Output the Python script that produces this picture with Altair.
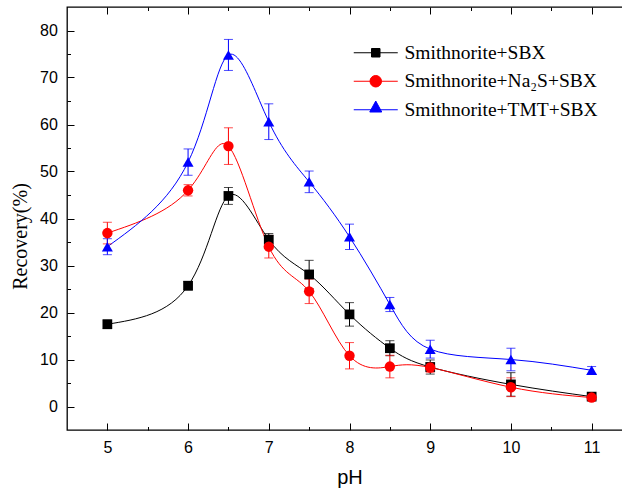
import altair as alt
import pandas as pd

# ---- data ----
ph = [5, 6, 6.5, 7, 7.5, 8, 8.5, 9, 10, 11]
series_names = ["Smithnorite+SBX", "Smithnorite+Na₂S+SBX", "Smithnorite+TMT+SBX"]
sbx = [17.5, 25.7, 44.8, 35.5, 28.1, 19.6, 12.4, 8.4, 4.7, 2.1]
sbx_err = [0.9, 0.9, 1.8, 1.3, 3.0, 2.5, 1.6, 1.5, 2.5, 0.6]
na2s = [36.9, 46.0, 55.4, 34.0, 24.5, 10.8, 8.5, 8.3, 4.1, 1.9]
na2s_err = [2.3, 1.2, 3.9, 2.4, 2.6, 2.8, 2.4, 1.0, 2.0, 0.5]
tmt = [34.0, 52.0, 74.8, 60.6, 47.8, 36.1, 21.7, 12.2, 10.0, 7.7]
tmt_err = [1.7, 2.8, 3.3, 3.8, 2.3, 2.7, 1.5, 1.9, 2.4, 0.8]

colors = ["#000000", "#ff0000", "#0000ff"]
marker_shapes = ["square", "circle", "triangle-up"]
marker_sizes = [95, 121, 165]
legend_shapes = [
    "M-4.4,0H4.4M-0.85,-0.85H0.85V0.85H-0.85Z",
    "M-4.4,0H4.4M-1.15,0A1.15,1.15,0,1,1,1.15,0A1.15,1.15,0,1,1,-1.15,0Z",
    "M-4.4,0H4.4M0,-1.75L1.2,0.45L-1.2,0.45Z",
]
x_major = [5, 6, 7, 8, 9, 10, 11]
x_minor = [5.5, 6.5, 7.5, 8.5, 9.5, 10.5]
y_major = [0, 10, 20, 30, 40, 50, 60, 70, 80]
y_minor = [5, 15, 25, 35, 45, 55, 65, 75]

rows = []
for name, vals, errs in zip(series_names, [sbx, na2s, tmt], [sbx_err, na2s_err, tmt_err]):
    for p, v, e in zip(ph, vals, errs):
        rows.append({"series": name, "ph": p, "value": v, "lo": v - e, "hi": v + e})
df = pd.DataFrame(rows)

xs = alt.Scale(domain=[4.5, 11.5], nice=False, zero=False)
ys = alt.Scale(domain=[-5, 85], nice=False, zero=False)


def cscale():
    return alt.Scale(domain=series_names, range=colors)


SANS = "Liberation Sans"
SERIF = "Liberation Serif"


def tick_axis(orient, values, size, **kw):
    return alt.Axis(orient=orient, values=values, tickSize=size, offset=-size,
                    domain=False, grid=False, tickColor="black", tickWidth=1,
                    **kw)


base = alt.Chart(df)

lines = base.mark_line(interpolate="natural", strokeWidth=1).encode(
    x=alt.X("ph:Q", scale=xs, axis=tick_axis(
        "bottom", x_major, 7, labelPadding=9, labelFont=SANS, labelFontSize=16,
        labelColor="black", format="d", title="pH", titleFont=SANS,
        titleFontSize=20, titleFontWeight="normal", titleColor="black",
        titleY=54, titleBaseline="middle")),
    y=alt.Y("value:Q", scale=ys, axis=tick_axis(
        "left", y_major, 7, labelPadding=9.6, labelFont=SANS, labelFontSize=16,
        labelColor="black", format="d", title="Recovery(%)", titleFont=SERIF,
        titleFontSize=20, titleFontWeight="normal", titleColor="black",
        titleAngle=270, titleX=-53.5, titleY=229, titleAlign="center",
        titleBaseline="middle")),
    color=alt.Color("series:N", scale=cscale(), legend=None),
)

errbars = base.mark_errorbar(ticks=True, size=9, thickness=1).encode(
    x=alt.X("ph:Q", scale=xs, axis=None),
    y=alt.Y("lo:Q", scale=ys, axis=None),
    y2="hi:Q",
    color=alt.Color("series:N", scale=cscale(), legend=None),
)

points = base.mark_point(filled=True, opacity=1).encode(
    x=alt.X("ph:Q", scale=xs, axis=tick_axis("top", x_major, 7, labels=False, title=None)),
    y=alt.Y("value:Q", scale=ys, axis=tick_axis("left", y_minor, 3.5, labels=False, title=None)),
    color=alt.Color("series:N", scale=cscale(), legend=None),
    shape=alt.Shape("series:N", scale=alt.Scale(domain=series_names, range=marker_shapes), legend=None),
    size=alt.Size("series:N", scale=alt.Scale(domain=series_names, range=marker_sizes), legend=None),
)

leg = alt.Legend(orient="none", legendX=299, legendY=36, title=None, symbolSize=100,
                 labelFont=SERIF, labelFontSize=19.5, labelColor="black",
                 labelOffset=19, rowPadding=7.5, symbolStrokeWidth=1, padding=0,
                 labelLimit=400, symbolOpacity=1)

legend_layer = base.transform_filter("false").mark_point(filled=True, strokeWidth=1, opacity=1).encode(
    x=alt.X("ph:Q", scale=xs, axis=tick_axis("bottom", x_minor, 3.5, labels=False, title=None)),
    y=alt.Y("value:Q", scale=ys, axis=None),
    color=alt.Color("series:N", scale=cscale(), legend=leg),
    stroke=alt.Stroke("series:N", scale=cscale(), legend=leg),
    shape=alt.Shape("series:N", scale=alt.Scale(domain=series_names, range=legend_shapes), legend=leg),
)

top_minor = base.transform_filter("false").mark_point().encode(
    x=alt.X("ph:Q", scale=xs, axis=tick_axis("top", x_minor, 3.5, labels=False, title=None)),
    y=alt.Y("value:Q", scale=ys, axis=None),
)

chart = alt.layer(lines, errbars, points, legend_layer, top_minor).resolve_scale(
    color="independent", shape="independent", size="independent", stroke="independent"
).resolve_axis(
    x="independent", y="independent"
).properties(
    width=565, height=423,
    autosize=alt.AutoSizeParams(type="none"),
    padding={"left": 67, "top": 7, "right": -10, "bottom": 60},
    background="white",
).configure_view(stroke="black", strokeWidth=1.3).configure_legend(
    labelFont=SERIF, labelFontSize=19.5, labelLimit=400
)

chart.save("out.html", embed_options={"renderer": "svg", "actions": False})
